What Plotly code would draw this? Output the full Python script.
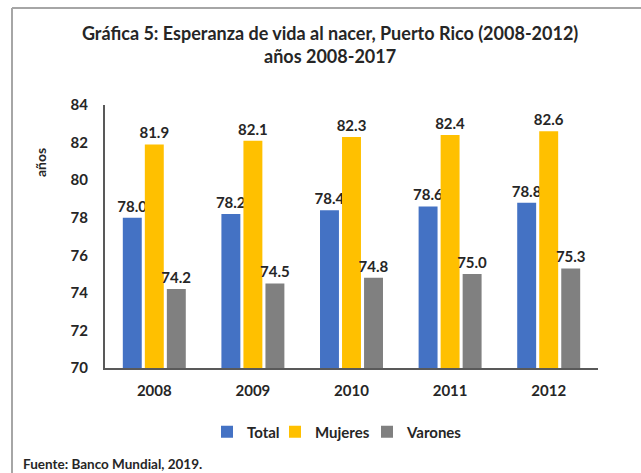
import plotly.graph_objects as go

years = ["2008", "2009", "2010", "2011", "2012"]
total = [78.0, 78.2, 78.4, 78.6, 78.8]
mujeres = [81.9, 82.1, 82.3, 82.4, 82.6]
varones = [74.2, 74.5, 74.8, 75.0, 75.3]
yticks = [70, 72, 74, 76, 78, 80, 82, 84]

FONT = "Lato"
TXT = "#262626"

W, H = 641, 473
L, R, T, B = 105, 43, 105, 105
pw, ph = W - L - R, H - T - B
def px(x): return (x - L) / pw
def py(y): return (H - B - y) / ph

series = [("Total", total, "#4472C4", "legend", 247),
          ("Mujeres", mujeres, "#FFC000", "legend2", 315),
          ("Varones", varones, "#808080", "legend3", 407)]

fig = go.Figure()
for name, vals, col, lg, _ in series:
    fig.add_trace(go.Bar(
        x=years, y=vals, name=name, legend=lg,
        marker=dict(color=col, line=dict(width=0)),
        text=[f"{v:.1f}" for v in vals], textposition="outside",
        textfont=dict(family=FONT, size=15, color=TXT, weight="bold"),
        constraintext="none", cliponaxis=False,
    ))

legend_common = dict(orientation="h", xanchor="left", y=py(432), yanchor="middle",
                     font=dict(family=FONT, size=15, color=TXT, weight="bold"),
                     itemwidth=30, bgcolor="rgba(0,0,0,0)", borderwidth=0)
legends = {}
for name, vals, col, lg, tx in series:
    legends[lg] = dict(legend_common, x=px(tx - 40))

fig.update_layout(
    width=W, height=H, margin=dict(l=L, r=R, t=T, b=B),
    paper_bgcolor="white", plot_bgcolor="white",
    barmode="group", bargap=0.33, bargroupgap=0.14,
    title=dict(text="<b>Gráfica 5: Esperanza de vida al nacer, Puerto Rico (2008-2012)<br>años 2008-2017</b>",
               x=0.515, xanchor="center", y=(H - 40) / H, yanchor="middle",
               font=dict(family=FONT, size=18, color=TXT)),
    font=dict(family=FONT, color=TXT),
    xaxis=dict(showline=True, linecolor="#595959", linewidth=2, ticks="",
               ticklabelstandoff=8,
               tickfont=dict(family=FONT, size=15, color=TXT, weight="bold")),
    yaxis=dict(range=[70, 84], tickvals=yticks, showgrid=False, showline=True,
               linecolor="#595959", linewidth=2, ticks="", zeroline=False,
               ticklabelstandoff=12,
               tickfont=dict(family=FONT, size=15, color=TXT, weight="bold")),
    showlegend=True,
    **legends,
)

fig.add_annotation(text="<b>años</b>", textangle=-90, xref="paper", yref="paper",
                   x=px(40), y=py(163), xanchor="center", yanchor="middle", showarrow=False,
                   font=dict(family=FONT, size=14, color=TXT))
fig.add_annotation(text="<b>Fuente: Banco Mundial, 2019.</b>", xref="paper", yref="paper",
                   x=px(21), xanchor="left", y=py(464), yanchor="middle", showarrow=False,
                   font=dict(family=FONT, size=13.5, color=TXT))

fig.add_shape(type="line", xref="paper", yref="paper", x0=px(12), x1=px(641), y0=py(8), y1=py(8),
              line=dict(color="#A6A6A6", width=2))
fig.add_shape(type="line", xref="paper", yref="paper", x0=px(12), x1=px(12), y0=py(8), y1=py(473),
              line=dict(color="#A6A6A6", width=2))

fig.write_html("out.html", config={"displayModeBar": False},
               post_script="document.body.style.margin='0';document.body.style.overflow='hidden';")
